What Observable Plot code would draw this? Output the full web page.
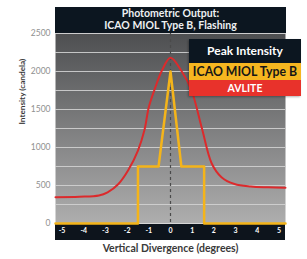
<!DOCTYPE html>
<html>
<head>
<meta charset="utf-8">
<script src="https://cdn.jsdelivr.net/npm/d3@7"></script>
<script src="https://cdn.jsdelivr.net/npm/@observablehq/plot@0.6"></script>
<style>
  html, body { margin: 0; padding: 0; background: #fff; }
  #wrap { position: relative; width: 307px; height: 259px; font-family: Lato, "DejaVu Sans", sans-serif; }
  #wrap svg { position: absolute; left: 0; top: 0; }
  .title { position: absolute; left: 55px; top: 7px; width: 231px; height: 26px; background: #0c1620; color: #eef0f2;
           font-weight: bold; font-size: 10.5px; line-height: 11.5px; text-align: center; padding-top: 1px; box-sizing: border-box; }
  .legend { position: absolute; left: 189px; top: 39px; width: 112px; box-shadow: -1px 1px 2px rgba(0,0,0,0.3); }
  .lg-head { height: 24px; line-height: 24px; background: #0c1620; color: #fff; font-weight: bold; font-size: 12px; text-align: center; }
  .lg-y { height: 17px; line-height: 17px; background: #f6b620; color: #161616; font-weight: bold; font-size: 12.3px; text-align: center; white-space: nowrap; }
  .lg-r { height: 16px; line-height: 16px; background: #e8322b; color: #fff; font-weight: bold; font-size: 10.5px; text-align: center; }
</style>
</head>
<body>
<div id="wrap"></div>
<script>
// ---- data ----
const titleLines = ["Photometric Output:", "ICAO MIOL Type B, Flashing"];
const legendTitle = "Peak Intensity";
const seriesNames = ["ICAO MIOL Type B", "AVLITE"];
const xLabel = "Vertical Divergence (degrees)";
const yLabel = "Intensity (candela)";
const xTicks = [-5, -4, -3, -2, -1, 0, 1, 2, 3, 4, 5];
const yTicks = [0, 500, 1000, 1500, 2000, 2500];
const gridValues = [250, 500, 750, 1000, 1250, 1500, 1750, 2000, 2250, 2500];

const icaoX = [-5.3, -1.5, -1.5, -0.55, 0, 0.5, 1.55, 1.55, 5.3];
const icaoY = [0, 0, 750, 750, 2000, 750, 750, 0, 0];

const avliteX = [-5.3, -4.2, -3.3, -2.9, -2.4, -1.95, -1.5, -1.2, -1.0, -0.7, -0.4, 0, 0.5, 0.97, 1.45, 1.9, 2.35, 2.95, 3.7, 4.5, 5.3];
const avliteY = [346, 352, 368, 410, 520, 700, 960, 1230, 1530, 1790, 2010, 2180, 2010, 1750, 1250, 790, 610, 520, 487, 476, 470];

const icao = icaoX.map((x, i) => ({x, y: icaoY[i]}));
const avlite = avliteX.map((x, i) => ({x, y: avliteY[i]}));

// ---- custom render helpers ----
const gradientDefs = () => {
  const g = d3.create("svg:g");
  const lg = g.append("defs").append("linearGradient")
    .attr("id", "bgGrad").attr("x1", 0).attr("y1", 0).attr("x2", 0).attr("y2", 1);
  lg.append("stop").attr("offset", "0%").attr("stop-color", "#4e4f51");
  lg.append("stop").attr("offset", "100%").attr("stop-color", "#aeaeae");
  return g.node();
};
const axisBand = (index, scales, values, dims) => {
  const g = d3.create("svg:g");
  g.append("rect")
    .attr("x", dims.marginLeft)
    .attr("y", dims.height - dims.marginBottom + 1)
    .attr("width", dims.width - dims.marginLeft - dims.marginRight)
    .attr("height", 16)
    .attr("fill", "#0d141c");
  return g.node();
};

const chart = Plot.plot({
  width: 307,
  height: 259,
  marginTop: 33,
  marginBottom: 36,
  marginLeft: 55,
  marginRight: 22,
  style: { background: "transparent", fontFamily: "Lato, 'DejaVu Sans', sans-serif" },
  x: { domain: [-5.3, 5.3] },
  y: { domain: [0, 2500] },
  marks: [
    gradientDefs,
    Plot.frame({ fill: "url(#bgGrad)", stroke: "none" }),
    Plot.ruleY(gridValues, { stroke: "#d2d2d2", strokeWidth: 1, strokeOpacity: 0.9 }),
    axisBand,
    Plot.ruleX([0], { stroke: "#4a4a4a", strokeWidth: 1.2, strokeDasharray: "3,3" }),
    Plot.line(icao, { x: "x", y: "y", stroke: "#f4b41a", strokeWidth: 2.5 }),
    Plot.line(avlite, { x: "x", y: "y", stroke: "#dc2a2c", strokeWidth: 2, curve: "catmull-rom" }),
    Plot.axisX({ ticks: xTicks, tickSize: 0, tickPadding: 5, fill: "#fff", fontSize: 7, fontWeight: "bold", label: null, tickFormat: d => String(d) }),
    Plot.axisY({ ticks: yTicks, tickSize: 0, tickPadding: 5, fill: "#909090", fontSize: 8.5, label: null, tickFormat: d => String(d) }),
    Plot.text([yLabel], { frameAnchor: "left", dx: -33, dy: -4, rotate: -90, fill: "#3a3a3a", fontSize: 8.2, fontWeight: "bold", text: d => d }),
    Plot.text([xLabel], { frameAnchor: "bottom", dy: 28, fill: "#3a3a3a", fontSize: 10.5, fontWeight: "bold", text: d => d })
  ]
});

const wrap = document.getElementById("wrap");
wrap.appendChild(chart);

const title = document.createElement("div");
title.className = "title";
title.innerHTML = titleLines.join("<br>");
wrap.appendChild(title);

const legend = document.createElement("div");
legend.className = "legend";
const h = document.createElement("div"); h.className = "lg-head"; h.textContent = legendTitle;
const ly = document.createElement("div"); ly.className = "lg-y"; ly.textContent = seriesNames[0];
const lr = document.createElement("div"); lr.className = "lg-r"; lr.textContent = seriesNames[1];
legend.append(h, ly, lr);
wrap.appendChild(legend);
</script>
</body>
</html>
